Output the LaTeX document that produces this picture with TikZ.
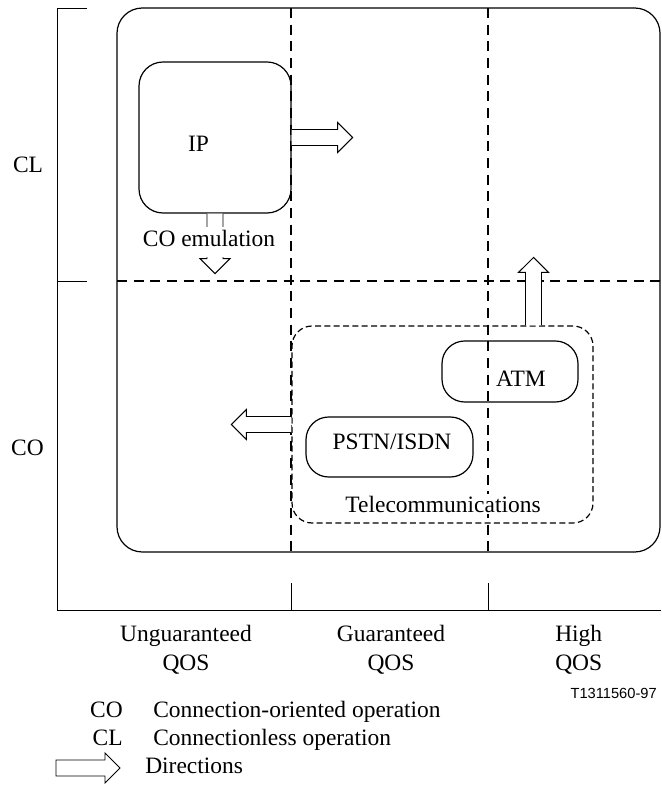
\documentclass[tikz,border=0pt]{standalone}
\usepackage{fontspec}
\setmainfont{Liberation Serif}
\newfontfamily\tagfont{Liberation Sans}

\tikzset{
  axis line/.style={line width=0.7pt},
  qos grid/.style={line width=1.4pt, dash pattern=on 7.5pt off 5pt},
  region/.style={draw, line width=0.9pt, rounded corners=#1, inner sep=0pt},
  region/.default=17pt,
  dir arrow/.style={fill=white, line width=0.7pt, line join=miter},
  txt/.style={inner sep=0pt},
}

% block arrow: start point, angle, length (px)
\newcommand{\dirarrow}[4][]{%
  \filldraw[dir arrow, shift={#2}, rotate=#3] (0,-8) -- ({#4-15},-8) -- ({#4-15},-15)
    -- (#4,0) -- ({#4-15},15) -- ({#4-15},8) -- (0,8) #1;}

\begin{document}
\begin{tikzpicture}[x=0.75pt, y=-0.75pt, font=\fontsize{17.6}{21.75}\selectfont]
\useasboundingbox (0,0) rectangle (661,787);

% axes
\draw[axis line] (87,8) -- (57,8) -- (57,610) -- (661,610);
\draw[axis line] (57,281) -- (87,281);
\foreach \x in {291,488}
  \draw[axis line] (\x,583) -- (\x,610);

% operating region and QOS grid
\node[region=19pt, minimum width=407.25pt, minimum height=408pt] (qos) at (388.5,280) {};
\foreach \x in {291,488}
  \draw[qos grid] (\x,8) -- (\x,552);
\draw[qos grid] (117,281) -- (660,281);

% networks
\node[region=18pt, minimum width=114pt, minimum height=113.25pt] (ip) at (215,137.5) {};
\node[region=15pt, line width=0.9pt, dash pattern=on 4.5pt off 2.5pt,
      minimum width=225.75pt, minimum height=147.75pt] (telecom) at (442.5,424.5) {};
\node[region, minimum width=102pt, minimum height=45.75pt] (atm) at (510,371.5) {};
\node[region, minimum width=125.25pt, minimum height=45pt] (pstn) at (389.5,447) {};

% directions
\dirarrow{(ip.east)}{0}{61}
\dirarrow{(ip.south)}{-90}{60}
\dirarrow{([xshift=68.25pt]telecom.north)}{90}{68}
\dirarrow{(telecom.west)}{180}{60}

% labels
\node[txt, anchor=base] (iplbl) at (198.5,152) {IP};
\node[anchor=base, fill=white, inner xsep=1pt, inner ysep=0pt, text height=15pt,
      text depth=7.5pt] (emul) at (209,247) {CO emulation};
\node[txt, anchor=base] (atmlbl) at (521,386) {ATM};
\node[txt, anchor=base] (pstnlbl) at (392,449) {PSTN/ISDN};
\node[anchor=base, fill=white, inner sep=1.5pt] (tellbl) at (443,512) {Telecommunications};

\node[txt, anchor=base] (cl) at (28,173) {CL};
\node[txt, anchor=base] (co) at (27.5,455) {CO};

\node[txt, anchor=base] (ung) at (186,641) {Unguaranteed};
\node[txt, anchor=base] (ungq) at ([yshift=-21.75pt]ung.base) {QOS};
\node[txt, anchor=base] (gua) at (391,641) {Guaranteed};
\node[txt, anchor=base] (guaq) at ([yshift=-21.75pt]gua.base) {QOS};
\node[txt, anchor=base west] (high) at (555,641) {High};
\node[txt, anchor=base west] (highq) at ([yshift=-21.75pt]high.base west) {QOS};
\node[txt, anchor=base east, font=\tagfont\fontsize{11}{13}\selectfont] (tag) at (657,698) {T1311560-97};

% legend
\node[txt, anchor=base east] (keyco) at (123,717) {CO};
\node[txt, anchor=base west] (keycotext) at (153,717) {Connection-oriented operation};
\node[txt, anchor=base east] (keycl) at (123,745) {CL};
\node[txt, anchor=base west] (keycltext) at (153,745) {Connectionless operation};
\dirarrow[-- cycle]{(56,768)}{0}{64}
\node[txt, anchor=base west] (keydir) at (145,773) {Directions};
\end{tikzpicture}
\end{document}
